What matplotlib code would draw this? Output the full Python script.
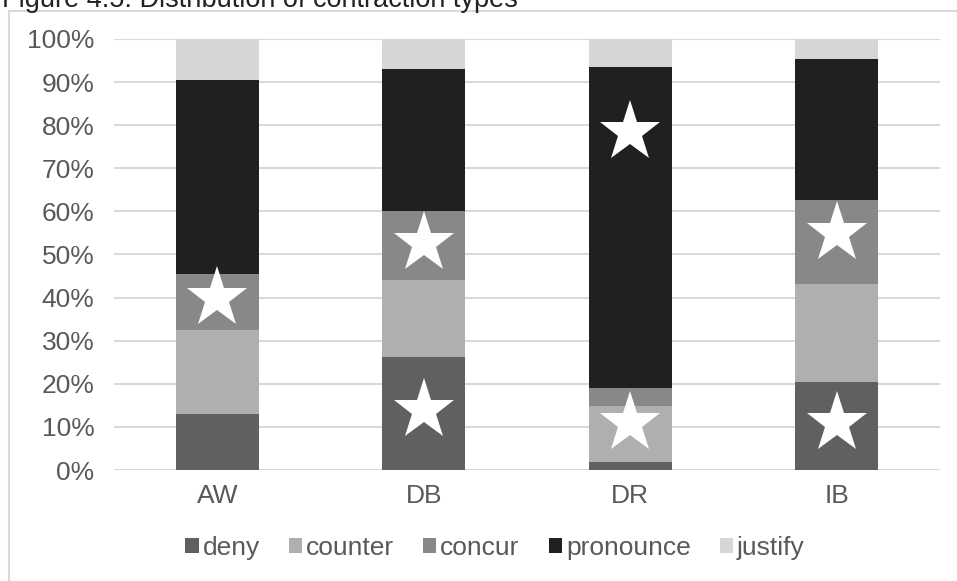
import matplotlib
matplotlib.use("Agg")
import matplotlib.pyplot as plt
from matplotlib.patches import Rectangle
import numpy as np

plt.rcParams['font.family'] = ['Liberation Sans', 'DejaVu Sans']

# Share of each contraction type per corpus (percent)
categories = ["AW", "DB", "DR", "IB"]
series_names = ["deny", "counter", "concur", "pronounce", "justify"]
deny = [13.0, 26.3, 1.9, 20.4]
counter = [19.5, 17.7, 12.9, 22.7]
concur = [13.0, 16.0, 4.2, 19.5]
pronounce = [44.9, 33.0, 74.5, 32.8]
justify = [9.6, 7.0, 6.5, 4.6]

# Significance stars: (category index, height in percent)
star_cat = [0, 1, 1, 2, 2, 3, 3]
star_y = [39.9, 52.6, 13.9, 78.5, 10.9, 55.0, 10.9]

y_ticks = list(range(0, 101, 10))
y_tick_labels = [f"{v}%" for v in y_ticks]

colors = ["#606060", "#afafaf", "#888888", "#202020", "#d6d6d6"]
text_grey = "#595959"
grid_grey = "#d9d9d9"

fig = plt.figure(figsize=(9.57, 5.81), dpi=100)
ax = fig.add_axes([114 / 957, 1 - 470 / 581, 826 / 957, 431 / 581])

x = np.arange(len(categories))
bottom = np.zeros(len(categories))
for name, vals, col in zip(series_names,
                           [deny, counter, concur, pronounce, justify],
                           colors):
    vals = np.array(vals)
    ax.bar(x, vals, width=0.4, bottom=bottom, color=col, label=name,
           linewidth=0, zorder=3)
    bottom += vals

ax.plot(np.array(star_cat), star_y, linestyle="none", marker="*",
        markersize=46, color="white", markeredgewidth=0, zorder=4)

ax.set_xlim(-0.5, 3.5)
ax.set_ylim(0, 100)
ax.set_yticks(y_ticks)
ax.set_yticklabels(y_tick_labels)
ax.set_xticks(x)
ax.set_xticklabels(categories)
ax.tick_params(axis="y", length=0, pad=14, labelsize=19, labelcolor=text_grey)
ax.tick_params(axis="x", length=0, pad=10, labelsize=19, labelcolor=text_grey)
ax.yaxis.grid(True, color=grid_grey, linewidth=1.5, zorder=0)
ax.set_axisbelow(True)
for s in ax.spines.values():
    s.set_visible(False)

leg = fig.legend(loc="center", bbox_to_anchor=(495 / 957, 1 - 548 / 581),
                 ncol=5, frameon=False, fontsize=19, handlelength=0.5,
                 handleheight=0.5, handletextpad=0.15, columnspacing=1.1,
                 labelcolor=text_grey, borderaxespad=0, borderpad=0)

# Chart frame
fig.patches.append(Rectangle((9 / 957, -0.1), 1.2, 1 - 10.5 / 581 + 0.1,
                             transform=fig.transFigure, fill=False,
                             edgecolor=grid_grey, linewidth=1.5))

fig.text(2 / 957, 1 - 7 / 581, "Figure 4.5: Distribution of contraction types",
         fontsize=19.5, color="#222222", va="baseline", ha="left")

fig.savefig("out.png", dpi=100)
